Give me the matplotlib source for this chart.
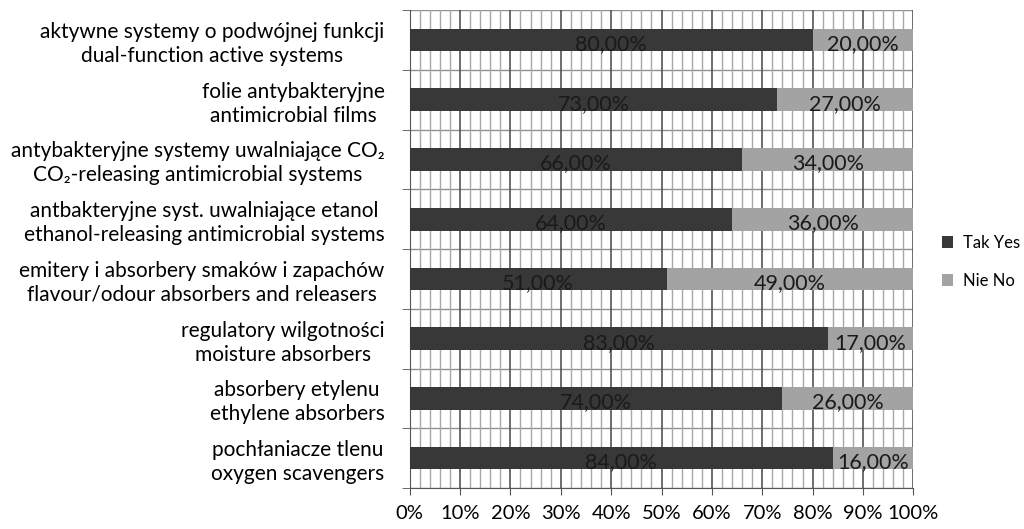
import numpy as np
import matplotlib.pyplot as plt
from matplotlib.ticker import FixedLocator

plt.rcParams['font.family'] = ['Lato', 'DejaVu Sans']

# dane (od dołu do góry)
categories = [
    "pochłaniacze tlenu\noxygen scavengers",
    "absorbery etylenu\nethylene absorbers",
    "regulatory wilgotności\nmoisture absorbers",
    "emitery i absorbery smaków i zapachów\nflavour/odour absorbers and releasers",
    "antbakteryjne syst. uwalniające etanol\nethanol-releasing antimicrobial systems",
    "antybakteryjne systemy uwalniające CO₂\nCO₂-releasing antimicrobial systems",
    "folie antybakteryjne\nantimicrobial films",
    "aktywne systemy o podwójnej funkcji\ndual-function active systems",
]
tak = [84, 74, 83, 51, 64, 66, 73, 80]
nie = [16, 26, 17, 49, 36, 34, 27, 20]
x_ticks = ["0%", "10%", "20%", "30%", "40%", "50%", "60%", "70%", "80%", "90%", "100%"]

fig = plt.figure(figsize=(10.24, 5.29), dpi=100)
ax = fig.add_axes([0.400, 0.0775, 0.492, 0.9035])

y = np.arange(len(categories))
h = 0.38
b1 = ax.barh(y, tak, height=h, color='#383838', label='Tak Yes', zorder=3)
b2 = ax.barh(y, nie, left=tak, height=h, color='#a3a3a3', label='Nie No', zorder=3)

# etykiety danych
for i in range(len(categories)):
    ax.text(tak[i] / 2, y[i] - 0.07, f"{tak[i]},00%", ha='center', va='center',
            fontsize=15.5, color='#1a1a1a', zorder=4)
    ax.text(tak[i] + nie[i] / 2, y[i] - 0.07, f"{nie[i]},00%", ha='center', va='center',
            fontsize=15.5, color='#1a1a1a', zorder=4)

ax.set_xlim(0, 100)
ax.set_ylim(-0.5, len(categories) - 0.5)

# siatka
ax.set_xticks(np.arange(0, 101, 10))
ax.set_xticklabels(x_ticks)
ax.xaxis.set_minor_locator(FixedLocator(np.arange(0, 101, 2)))
ax.grid(which='minor', axis='x', color='#a8a8a8', lw=1.0, zorder=0)
ax.grid(which='major', axis='x', color='#555555', lw=1.2, zorder=1)
for yb in np.arange(-0.5, len(categories), 1.0):
    ax.axhline(yb, color='#909090', lw=1.0, zorder=1)

ax.set_yticks(y)
ax.set_yticklabels(categories, fontsize=15, linespacing=1.25)
for lab in ax.get_yticklabels():
    lab.set_multialignment('center')
ax.yaxis.set_minor_locator(FixedLocator(np.arange(-0.5, len(categories), 1.0)))
ax.tick_params(axis='y', which='major', length=0, pad=18)
ax.tick_params(axis='y', which='minor', length=6, color='#555555', direction='out')
ax.tick_params(axis='x', which='major', labelsize=14.5, length=5, color='#555555', pad=7)
ax.tick_params(axis='x', which='minor', length=0)

for s in ['top', 'right']:
    ax.spines[s].set_visible(False)
ax.spines['left'].set_color('#555555')
ax.spines['bottom'].set_color('#555555')

fig.legend(handles=[b1, b2], labels=['Tak Yes', 'Nie No'], loc='center left',
           bbox_to_anchor=(0.905, 0.505), frameon=False, fontsize=12,
           handlelength=0.7, handleheight=0.7, handletextpad=0.6, labelspacing=1.3)

fig.savefig("out.png", dpi=100)
